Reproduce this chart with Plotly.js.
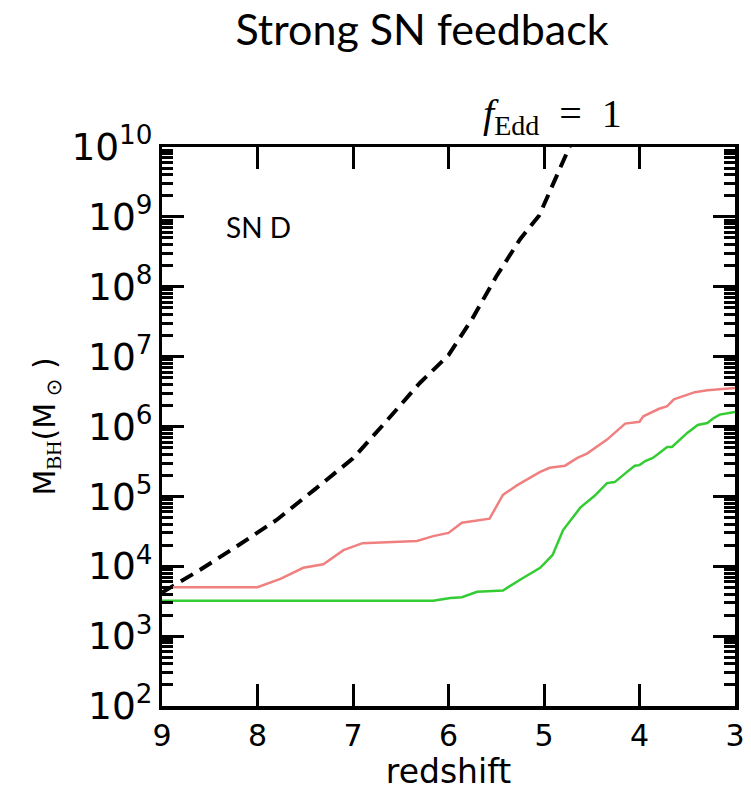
<!DOCTYPE html>
<html>
<head>
<meta charset="utf-8">
<script src="https://cdn.plot.ly/plotly-3.0.1.min.js"></script>
<style>
  html, body { margin: 0; padding: 0; background: #fff; }
  #chart { width: 751px; height: 795px; }
</style>
</head>
<body>
<div id="chart"></div>
<script>
// Black hole mass growth vs redshift, strong SN feedback run (SN D)

// Eddington-limited growth track (f_Edd = 1)
const eddZ = [9.0, 8.6, 8.2, 7.8, 7.4, 7.0, 6.7, 6.3, 6.0, 5.75, 5.5, 5.25, 5.05, 4.85, 4.72];
const eddM = [4.2e3, 8.9e3, 2.0e4, 4.6e4, 1.26e5, 3.5e5, 1.0e6, 4.2e6, 1.05e7, 3.5e7, 1.4e8, 4.8e8, 1.05e9, 4.2e9, 1.1e10];

// Upper (red) track
const redZ = [9.0, 8.0, 7.76, 7.52, 7.31, 7.10, 6.90, 6.33, 6.16, 6.00, 5.86, 5.72, 5.57, 5.43, 5.28,
              5.04, 4.94, 4.78, 4.65, 4.55, 4.45, 4.34, 4.15, 4.00, 3.96, 3.87, 3.80, 3.71, 3.64, 3.42, 3.29, 3.00];
const redM = [5.0e3, 5.0e3, 6.6e3, 9.5e3, 1.07e4, 1.7e4, 2.14e4, 2.3e4, 2.7e4, 3.0e4, 4.2e4, 4.5e4, 4.8e4, 1.05e5, 1.45e5,
              2.24e5, 2.57e5, 2.75e5, 3.55e5, 4.1e5, 5.1e5, 6.5e5, 1.1e6, 1.17e6, 1.4e6, 1.6e6, 1.78e6, 1.95e6, 2.45e6, 3.1e6, 3.3e6, 3.55e6];

// Lower (green) track
const greenZ = [9.0, 6.16, 5.98, 5.86, 5.70, 5.43, 5.22, 5.04, 4.91, 4.80, 4.62, 4.47, 4.34, 4.26,
                4.13, 4.05, 4.00, 3.94, 3.86, 3.71, 3.66, 3.50, 3.39, 3.29, 3.23, 3.16, 3.00];
const greenM = [3.2e3, 3.2e3, 3.5e3, 3.6e3, 4.3e3, 4.5e3, 6.8e3, 9.5e3, 1.45e4, 3.3e4, 6.9e4, 1.02e5, 1.55e5, 1.6e5,
                2.24e5, 2.75e5, 2.8e5, 3.2e5, 3.55e5, 5.1e5, 5.1e5, 8.1e5, 1.05e6, 1.12e6, 1.3e6, 1.48e6, 1.62e6];

const xTicks = [9, 8, 7, 6, 5, 4, 3];

const traces = [
  { x: eddZ, y: eddM, mode: 'lines', line: { color: '#000', width: 4, dash: '14px,8px' }, hoverinfo: 'skip' },
  { x: redZ, y: redM, mode: 'lines', line: { color: '#f08080', width: 2.5 }, hoverinfo: 'skip' },
  { x: greenZ, y: greenM, mode: 'lines', line: { color: '#33cc33', width: 2.5 }, hoverinfo: 'skip' }
];

const serif = 'Liberation Serif, serif';

const layout = {
  width: 751, height: 795,
  margin: { l: 162, r: 16, t: 147, b: 89 },
  paper_bgcolor: '#fff', plot_bgcolor: '#fff',
  showlegend: false,
  title: {
    text: 'Strong SN feedback',
    font: { family: 'Lato, sans-serif', size: 43, color: '#000' },
    xref: 'container', yref: 'container', x: 0.562, y: 0.962,
    xanchor: 'center', yanchor: 'middle'
  },
  xaxis: {
    range: [9, 3], tickvals: xTicks, ticktext: xTicks.map(String),
    showgrid: false, zeroline: false,
    showline: true, linecolor: '#000', linewidth: 3.5, mirror: 'ticks',
    ticks: 'inside', ticklen: 22, tickwidth: 3, tickcolor: '#000',
    tickfont: { family: 'DejaVu Sans, sans-serif', size: 30, color: '#000' },
    title: { text: 'redshift', font: { family: 'DejaVu Sans, sans-serif', size: 33, color: '#000' }, standoff: 2 }
  },
  yaxis: {
    type: 'log', range: [2, 10], dtick: 1,
    exponentformat: 'power', showexponent: 'all',
    showgrid: false, zeroline: false,
    showline: true, linecolor: '#000', linewidth: 3.5, mirror: 'ticks',
    ticks: 'inside', ticklen: 22, tickwidth: 3, tickcolor: '#000',
    minor: { ticks: 'inside', ticklen: 11, tickwidth: 3, tickcolor: '#000', dtick: 'D1', showgrid: false },
    tickfont: { family: 'DejaVu Sans, sans-serif', size: 30, color: '#000' },
    title: {
      text: 'M<sub><span style="font-family:' + serif + '">BH</span></sub>(M<sub> ⊙</sub> )',
      font: { family: 'DejaVu Sans, sans-serif', size: 30, color: '#000' }, standoff: 8
    }
  },
  annotations: [
    { text: 'SN D', xref: 'paper', yref: 'paper', x: 0.108, y: 0.857, xanchor: 'left', yanchor: 'middle',
      showarrow: false, font: { family: 'Lato, sans-serif', size: 28, color: '#000' } },
    { text: '<i>f</i><sub>Edd</sub>  =  1', xref: 'paper', yref: 'paper', x: 0.557, y: 1.056,
      xanchor: 'left', yanchor: 'middle', showarrow: false,
      font: { family: serif, size: 40, color: '#000' } }
  ]
};

Plotly.newPlot('chart', traces, layout, { staticPlot: true, displayModeBar: false });
</script>
</body>
</html>
